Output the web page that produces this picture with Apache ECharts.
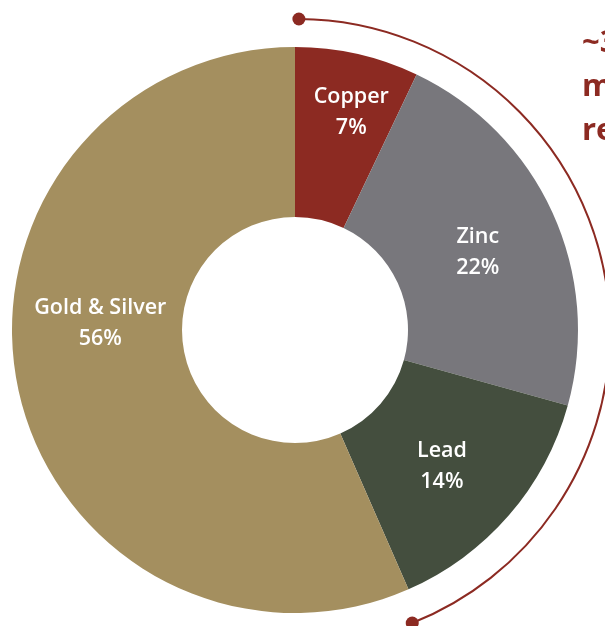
<!DOCTYPE html>
<html>
<head>
<meta charset="utf-8">
<script src="https://cdn.jsdelivr.net/npm/echarts@6/dist/echarts.min.js"></script>
<style>
html,body{margin:0;padding:0;background:#fff;}
#main{width:605px;height:626px;}
</style>
</head>
<body>
<div id="main"></div>
<script>
var categories = ['Copper', 'Zinc', 'Lead', 'Gold & Silver'];
var values = [7, 22, 14, 56];
var colors = ['#8C2A22', '#78777C', '#444E3E', '#A48F5F'];
var sideText = ['~30%', 'mi', 're'];

var labelShift = [[12, -22], [0, 6], [-5, 5], [2, -48]];

var chart = echarts.init(document.getElementById('main'));

var cx = 297, cy = 332, R = 313;
var a0 = -Math.PI / 2 + 0.006;
var a1 = 68.4 * Math.PI / 180;
var red = '#8C2A22';

option = {
  backgroundColor: '#fff',
  animation: false,
  series: [{
    type: 'pie',
    center: [295, 330],
    radius: [113, 283],
    startAngle: 90,
    clockwise: true,
    avoidLabelOverlap: false,
    data: categories.map(function (c, i) {
      return { name: c, value: values[i], itemStyle: { color: colors[i] } };
    }),
    label: {
      show: true,
      position: 'inside',
      formatter: '{b}\n{c}%',
      color: '#fff',
      fontFamily: 'Open Sans',
      fontWeight: 600,
      fontSize: 21.5,
      lineHeight: 31,
      align: 'center'
    },
    labelLine: { show: false },
    labelLayout: function (p) {
      var s = labelShift[p.dataIndex];
      return { dx: s[0], dy: s[1] };
    },
    emphasis: { disabled: true }
  }],
  graphic: [
    {
      type: 'arc',
      shape: { cx: cx, cy: cy, r: R, startAngle: a0, endAngle: a1, clockwise: true },
      style: { stroke: red, lineWidth: 2, fill: null }
    },
    {
      type: 'circle',
      shape: { cx: cx + R * Math.cos(a0), cy: cy + R * Math.sin(a0), r: 6.5 },
      style: { fill: red }
    },
    {
      type: 'circle',
      shape: { cx: cx + R * Math.cos(a1), cy: cy + R * Math.sin(a1), r: 6.5 },
      style: { fill: red }
    }
  ].concat(sideText.map(function (t, i) {
    return {
      type: 'text',
      left: 582,
      top: 28 + i * 44,
      style: {
        text: t,
        fill: red,
        font: 'bold 31px "Open Sans"'
      }
    };
  }))
};
chart.setOption(option);
</script>
</body>
</html>
